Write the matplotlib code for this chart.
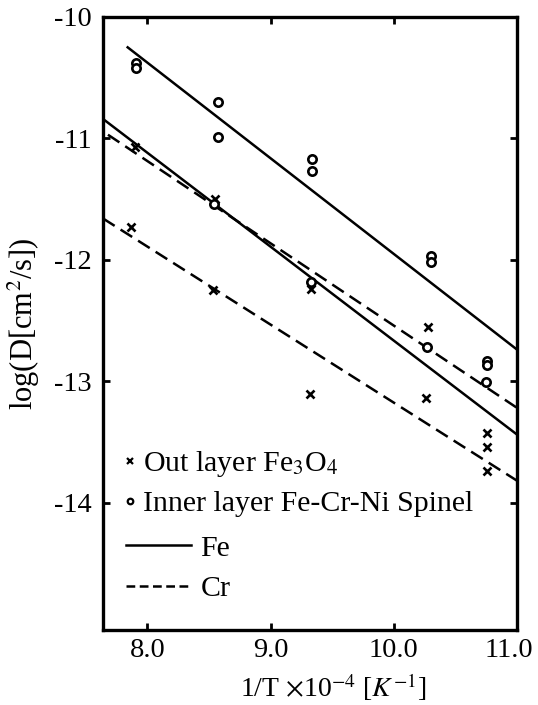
import matplotlib
matplotlib.use("Agg")
import matplotlib.pyplot as plt
import matplotlib.transforms as mtransforms
from matplotlib.lines import Line2D

plt.rcParams["font.family"] = ["Liberation Serif", "DejaVu Serif"]
plt.rcParams["mathtext.fontset"] = "stix"
plt.rcParams["axes.unicode_minus"] = False

# Couche externe Fe3O4 (croix)
out_x = [7.90, 7.87, 8.55, 8.53, 9.33, 9.32, 10.28, 10.26, 10.76, 10.76, 10.76]
out_y = [-11.07, -11.73, -11.50, -12.25, -12.24, -13.11, -12.55, -13.14, -13.43, -13.54, -13.74]

# Couche interne spinelle Fe-Cr-Ni (cercles)
in_x = [7.91, 7.91, 8.57, 8.57, 8.54, 9.34, 9.34, 9.33, 10.30, 10.30, 10.27, 10.76, 10.76, 10.75]
in_y = [-10.38, -10.42, -10.70, -10.99, -11.54, -11.17, -11.27, -12.18, -11.97, -12.02, -12.72, -12.83, -12.87, -13.01]

# Droites d'ajustement (extrémités x, y)
fe_in_x, fe_in_y = [7.84, 11.0], [-10.25, -12.74]
fe_out_x, fe_out_y = [7.64, 11.0], [-10.84, -13.44]
cr_in_x, cr_in_y = [7.68, 11.0], [-10.97, -13.22]
cr_out_x, cr_out_y = [7.64, 11.0], [-11.66, -13.82]

xticks = [8.0, 9.0, 10.0, 11.0]
xtick_labels = ["8.0", "9.0", "10.0", "11.0"]
yticks = [-14, -13, -12, -11, -10]
ytick_labels = ["-14", "-13", "-12", "-11", "-10"]

fig = plt.figure(figsize=(5.38, 7.05), dpi=100)
ax = fig.add_axes([0.1915, 0.1064, 0.7695, 0.8695])

dash = (0, (5.5, 2.8))
ax.plot(fe_in_x, fe_in_y, color="black", lw=1.8)
ax.plot(fe_out_x, fe_out_y, color="black", lw=1.8)
ax.plot(cr_in_x, cr_in_y, color="black", lw=1.8, linestyle=dash)
ax.plot(cr_out_x, cr_out_y, color="black", lw=1.8, linestyle=dash)

ax.plot(out_x, out_y, "x", color="black", ms=5.5, mew=1.9, linestyle="none")
ax.plot(in_x, in_y, "o", mfc="white", mec="black", ms=6, mew=1.9, linestyle="none")

ax.set_xlim(7.64, 11.0)
ax.set_ylim(-15.05, -10.0)
ax.set_xticks(xticks)
ax.set_xticklabels(xtick_labels)
ax.set_yticks(yticks)
ax.set_yticklabels(ytick_labels)
ax.tick_params(direction="in", length=5, width=2, labelsize=20.5,
               top=True, right=True)
ax.tick_params(axis="x", pad=6)
ax.tick_params(axis="y", pad=8)
for s in ax.spines.values():
    s.set_linewidth(2.4)

# le dernier label (11.0) décalé vers la gauche pour rester dans la figure
last = ax.get_xticklabels()[-1]
last.set_transform(last.get_transform() +
                   mtransforms.ScaledTranslation(-0.08, 0, fig.dpi_scale_trans))

ax.set_xlabel(r"1/T $\times$10$^{-4}$ [$K^{-1}$]", fontsize=20)
ax.xaxis.set_label_coords(0.556, -0.068)
ax.set_ylabel(r"log(D[cm$^2$/s])", fontsize=22)
ax.yaxis.set_label_coords(-0.147, 0.5)

# Légende : symboles puis droites
h_pts = [
    Line2D([], [], marker="x", color="black", ms=4, mew=1.6, linestyle="none"),
    Line2D([], [], marker="o", mfc="white", mec="black", ms=4, mew=1.6, linestyle="none"),
]
leg1 = ax.legend(h_pts, [r"Out layer Fe$_3$O$_4$", "Inner layer Fe-Cr-Ni Spinel"],
                 loc="upper left", bbox_to_anchor=(0.05, 0.295), frameon=False,
                 fontsize=21.5, handlelength=0.4, handletextpad=0.25,
                 labelspacing=0.37, borderpad=0, borderaxespad=0)
ax.add_artist(leg1)

h_lines = [
    Line2D([], [], color="black", lw=1.8),
    Line2D([], [], color="black", lw=1.8, linestyle=(0, (3.5, 1.8))),
]
ax.legend(h_lines, ["Fe", "Cr"], loc="upper left", bbox_to_anchor=(0.055, 0.155),
          frameon=False, fontsize=21.5, handlelength=2.2, handletextpad=0.3,
          labelspacing=0.45, borderpad=0, borderaxespad=0)

fig.savefig("out.png", dpi=100)
